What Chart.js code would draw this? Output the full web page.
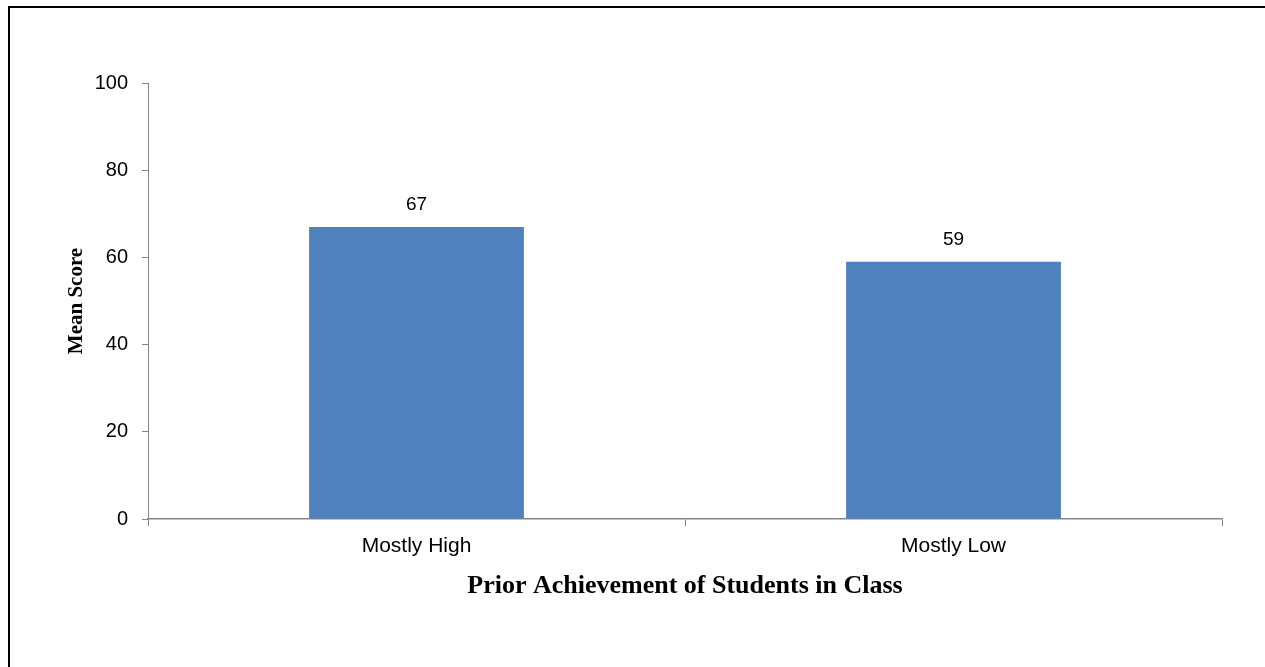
<!DOCTYPE html>
<html>
<head>
  <title>Mean Score by Prior Achievement</title>
  <meta charset="UTF-8">
  <script src="https://cdn.jsdelivr.net/npm/chart.js"></script>
  <style>
    html, body { margin: 0; padding: 0; background: #fff; overflow: hidden; }
    #frame { position: absolute; left: 8px; top: 6px; width: 2000px; height: 2000px;
             border-top: 2px solid #000; border-left: 2px solid #000; }
    #wrap { position: absolute; left: 0; top: 0; width: 1265px; height: 667px; }
  </style>
</head>
<body>
  <div id="frame"></div>
  <div id="wrap">
    <canvas id="scoreChart" width="1265" height="667"></canvas>
  </div>

  <script>
    // data
    const categories = ['Mostly High', 'Mostly Low'];
    const meanScores = [67, 59];
    const yTicks = [0, 20, 40, 60, 80, 100];

    const axisGray = '#868686';

    // value labels above bars
    const barLabels = {
      id: 'barLabels',
      afterDatasetsDraw(chart) {
        const ctx = chart.ctx;
        const meta = chart.getDatasetMeta(0);
        ctx.save();
        ctx.font = '19px "Liberation Sans", Arial, sans-serif';
        ctx.fillStyle = '#000';
        ctx.textAlign = 'center';
        ctx.textBaseline = 'middle';
        meta.data.forEach((bar, i) => {
          ctx.fillText(meanScores[i], bar.x, bar.y - 22);
        });
        ctx.restore();
      }
    };

    const ctx = document.getElementById('scoreChart').getContext('2d');
    new Chart(ctx, {
      type: 'bar',
      data: {
        labels: categories,
        datasets: [{
          data: meanScores,
          backgroundColor: '#4F81BD',
          borderWidth: 0,
          categoryPercentage: 1.0,
          barPercentage: 0.4
        }]
      },
      options: {
        responsive: false,
        animation: false,
        layout: { padding: { left: 60, right: 43, top: 83, bottom: 65 } },
        plugins: {
          legend: { display: false },
          tooltip: { enabled: false }
        },
        scales: {
          x: {
            grid: { display: true, drawOnChartArea: false, drawTicks: true, tickLength: 7, color: axisGray, offset: true },
            border: { display: true, color: axisGray, width: 1.5 },
            ticks: {
              color: '#000',
              padding: 8,
              font: { family: '"Liberation Sans", Arial, sans-serif', size: 21 }
            },
            title: {
              display: true,
              text: 'Prior Achievement of Students in Class',
              color: '#000',
              padding: { top: 0, bottom: 0 },
              font: { family: '"Liberation Serif", "Times New Roman", serif', size: 26, weight: 'bold' }
            },
            afterFit(scale) { scale.height = 83; }
          },
          y: {
            min: 0,
            max: 100,
            afterBuildTicks(scale) { scale.ticks = yTicks.map(v => ({ value: v })); },
            grid: { display: true, drawOnChartArea: false, drawTicks: true, tickLength: 6, color: axisGray },
            border: { display: true, color: axisGray, width: 1 },
            ticks: {
              color: '#000',
              padding: 14,
              font: { family: '"Liberation Sans", Arial, sans-serif', size: 20 }
            },
            title: {
              display: true,
              text: 'Mean Score',
              color: '#000',
              padding: { top: 4, bottom: 0 },
              font: { family: '"Liberation Serif", "Times New Roman", serif', size: 21, weight: 'bold' }
            },
            afterFit(scale) { scale.width = 88; }
          }
        }
      },
      plugins: [barLabels]
    });
  </script>
</body>
</html>
